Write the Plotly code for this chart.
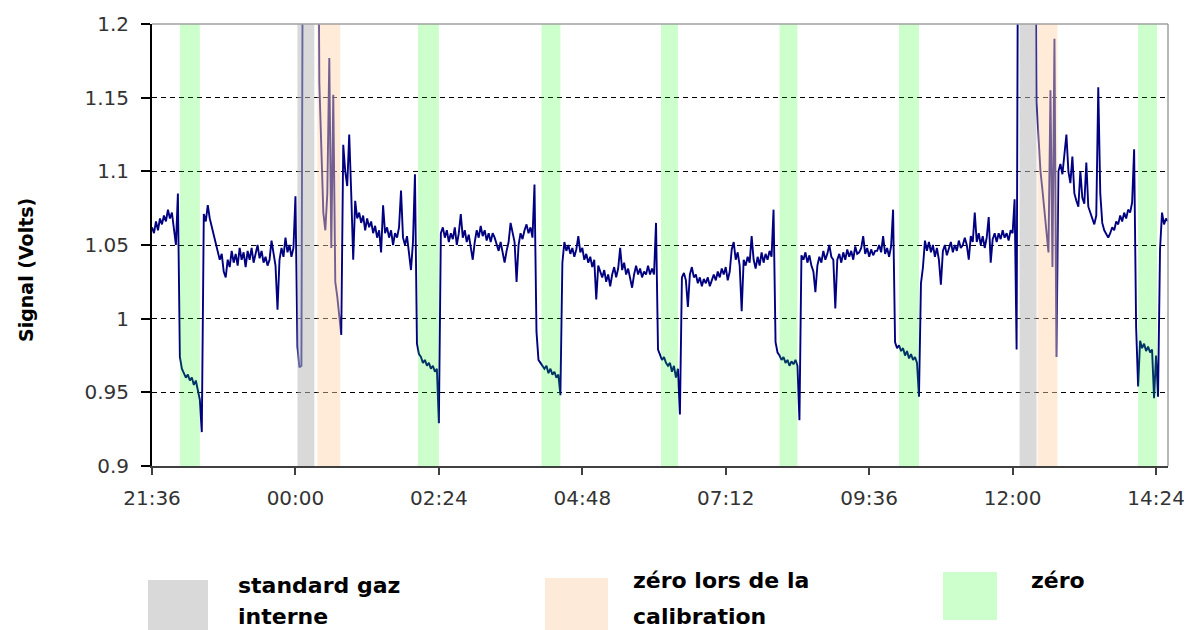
import plotly.graph_objects as go
import pandas as pd

# ---------------- data ----------------
start_time = "2000-01-01 21:36"
step_minutes = 2

# Signal (Volts), one reading every 2 minutes from 21:36
signal = [
    1.062, 1.058, 1.066, 1.060, 1.068, 1.064, 1.070, 1.066, 1.074, 1.068,  # 21:36
    1.072, 1.060, 1.050, 1.085, 0.974, 0.966, 0.963, 0.960, 0.962, 0.958,  # 21:56
    0.960, 0.955, 0.958, 0.952, 0.945, 0.923, 1.071, 1.066, 1.077, 1.068,  # 22:16
    1.062, 1.058, 1.050, 1.046, 1.040, 1.044, 1.032, 1.028, 1.040, 1.035,  # 22:36
    1.046, 1.038, 1.044, 1.036, 1.048, 1.040, 1.045, 1.035, 1.046, 1.040,  # 22:56
    1.048, 1.038, 1.044, 1.050, 1.041, 1.046, 1.038, 1.042, 1.036, 1.040,  # 23:16
    1.053, 1.044, 1.036, 1.006, 1.040, 1.048, 1.042, 1.055, 1.045, 1.050,  # 23:36
    1.042, 1.048, 1.083, 0.981, 0.967, 0.968, 1.400, 1.400, 1.400, 1.400,  # 23:56
    1.400, 1.400, 1.400, 1.400, 1.160, 1.116, 1.072, 1.060, 1.085, 1.177,  # 00:16
    1.048, 1.152, 1.025, 1.015, 1.003, 0.989, 1.118, 1.100, 1.090, 1.125,  # 00:36
    1.085, 1.040, 1.080, 1.068, 1.072, 1.065, 1.070, 1.060, 1.068, 1.062,  # 00:56
    1.066, 1.058, 1.063, 1.055, 1.060, 1.045, 1.077, 1.058, 1.062, 1.055,  # 01:16
    1.060, 1.050, 1.058, 1.055, 1.062, 1.087, 1.055, 1.050, 1.056, 1.045,  # 01:36
    1.033, 1.052, 1.098, 0.983, 0.976, 0.974, 0.970, 0.972, 0.968, 0.970,  # 01:56
    0.966, 0.968, 0.964, 0.966, 0.929, 1.058, 1.062, 1.055, 1.060, 1.052,  # 02:16
    1.058, 1.054, 1.062, 1.050, 1.058, 1.071, 1.055, 1.060, 1.052, 1.057,  # 02:36
    1.048, 1.040, 1.052, 1.060, 1.055, 1.063, 1.056, 1.060, 1.053, 1.058,  # 02:56
    1.052, 1.058, 1.055, 1.050, 1.046, 1.052, 1.044, 1.038, 1.046, 1.052,  # 03:16
    1.065, 1.058, 1.052, 1.025, 1.050, 1.058, 1.054, 1.060, 1.064, 1.058,  # 03:36
    1.062, 1.055, 1.091, 0.991, 0.972, 0.970, 0.968, 0.966, 0.968, 0.963,  # 03:56
    0.966, 0.962, 0.964, 0.960, 0.962, 0.948, 1.038, 1.052, 1.046, 1.050,  # 04:16
    1.044, 1.048, 1.042, 1.047, 1.056, 1.045, 1.048, 1.040, 1.044, 1.038,  # 04:36
    1.042, 1.035, 1.040, 1.013, 1.036, 1.032, 1.028, 1.033, 1.025, 1.030,  # 04:56
    1.022, 1.030, 1.035, 1.028, 1.034, 1.048, 1.033, 1.038, 1.030, 1.034,  # 05:16
    1.027, 1.021, 1.030, 1.036, 1.030, 1.034, 1.028, 1.032, 1.030, 1.036,  # 05:36
    1.030, 1.034, 1.030, 1.065, 0.979, 0.976, 0.972, 0.974, 0.970, 0.968,  # 05:56
    0.970, 0.964, 0.968, 0.960, 0.966, 0.935, 1.028, 1.031, 1.026, 1.008,  # 06:16
    1.030, 1.035, 1.028, 1.030, 1.024, 1.028, 1.022, 1.027, 1.024, 1.028,  # 06:36
    1.022, 1.026, 1.030, 1.026, 1.032, 1.028, 1.034, 1.030, 1.035, 1.026,  # 06:56
    1.032, 1.047, 1.052, 1.040, 1.045, 1.036, 1.005, 1.040, 1.036, 1.042,  # 07:16
    1.038, 1.056, 1.040, 1.034, 1.042, 1.036, 1.045, 1.038, 1.044, 1.040,  # 07:36
    1.046, 1.042, 1.074, 0.984, 0.977, 0.975, 0.972, 0.974, 0.970, 0.972,  # 07:56
    0.968, 0.971, 0.969, 0.972, 0.968, 0.931, 1.043, 1.040, 1.045, 1.038,  # 08:16
    1.043, 1.036, 1.032, 1.018, 1.036, 1.042, 1.038, 1.046, 1.040, 1.044,  # 08:36
    1.050, 1.042, 1.040, 1.007, 1.040, 1.044, 1.038, 1.045, 1.040, 1.047,  # 08:56
    1.042, 1.046, 1.040, 1.049, 1.044, 1.045, 1.048, 1.056, 1.044, 1.048,  # 09:16
    1.042, 1.047, 1.043, 1.046, 1.046, 1.050, 1.045, 1.056, 1.044, 1.048,  # 09:36
    1.042, 1.049, 1.074, 0.984, 0.980, 0.982, 0.978, 0.980, 0.975, 0.978,  # 09:56
    0.973, 0.976, 0.972, 0.974, 0.970, 0.947, 1.024, 1.035, 1.053, 1.046,  # 10:16
    1.052, 1.045, 1.050, 1.042, 1.048, 1.040, 1.023, 1.046, 1.050, 1.043,  # 10:36
    1.048, 1.052, 1.045, 1.050, 1.046, 1.053, 1.048, 1.050, 1.055, 1.050,  # 10:56
    1.040, 1.056, 1.052, 1.072, 1.052, 1.058, 1.050, 1.056, 1.048, 1.055,  # 11:16
    1.069, 1.038, 1.054, 1.058, 1.052, 1.058, 1.054, 1.060, 1.055, 1.058,  # 11:36
    1.053, 1.060, 1.058, 1.081, 0.979, 1.400, 1.400, 1.400, 1.400, 1.400,  # 11:56
    1.400, 1.400, 1.400, 1.400, 1.147, 1.120, 1.100, 1.087, 1.072, 1.060,  # 12:16
    1.045, 1.155, 1.035, 1.190, 0.974, 1.100, 1.105, 1.098, 1.110, 1.125,  # 12:36
    1.100, 1.092, 1.110, 1.085, 1.080, 1.076, 1.100, 1.082, 1.078, 1.106,  # 12:56
    1.076, 1.072, 1.068, 1.064, 1.070, 1.157, 1.085, 1.065, 1.060, 1.057,  # 13:16
    1.055, 1.058, 1.062, 1.060, 1.066, 1.064, 1.070, 1.066, 1.072, 1.068,  # 13:36
    1.074, 1.072, 1.079, 1.115, 0.994, 0.954, 0.985, 0.980, 0.983, 0.978,  # 13:56
    0.981, 0.977, 0.979, 0.946, 0.975, 0.947, 1.047, 1.072, 1.064, 1.068,  # 14:16
    1.066,                                                                 # 14:36
]

# Event periods (shaded bands)
gray_start = ["2000-01-02 00:02", "2000-01-02 12:07"]
gray_end = ["2000-01-02 00:19", "2000-01-02 12:24"]
orange_start = ["2000-01-02 00:22", "2000-01-02 12:25"]
orange_end = ["2000-01-02 00:45", "2000-01-02 12:45"]
green_start = ["2000-01-01 22:04", "2000-01-02 02:03", "2000-01-02 04:07", "2000-01-02 06:07",
               "2000-01-02 08:06", "2000-01-02 10:06", "2000-01-02 14:06"]
green_end = ["2000-01-01 22:24", "2000-01-02 02:24", "2000-01-02 04:26", "2000-01-02 06:24",
             "2000-01-02 08:24", "2000-01-02 10:26", "2000-01-02 14:25"]

y_ticks = [0.9, 0.95, 1.0, 1.05, 1.1, 1.15, 1.2]
y_ticktext = ["0.9", "0.95", "1", "1.05", "1.1", "1.15", "1.2"]
x_range = ["2000-01-01 21:36", "2000-01-02 14:36"]

legend_lines = [["standard gaz", "interne"], ["zéro lors de la", "calibration"], ["zéro"]]

# ---------------- figure ----------------
t0 = pd.Timestamp(start_time)
times = [t0 + pd.Timedelta(minutes=step_minutes * i) for i in range(len(signal))]

fig = go.Figure()
fig.add_trace(go.Scatter(x=times, y=signal, mode="lines",
                         line=dict(color="#000080", width=1.9),
                         hoverinfo="skip", showlegend=False))

OFF = 8  # page offset of the figure inside the window
W, H = 1192 - OFF, 630 - OFF
# plot area in window pixels: x 152..1168, y 24..466
L, T = 152 - OFF, 24 - OFF
R = W - (1168 - OFF)
B = H - (466 - OFF)
pw, ph = W - L - R, H - T - B

def px(xw):
    return (xw - OFF - L) / pw

def py(yw):
    return (H - B - (yw - OFF)) / ph

shapes = []
def band(s, e, color, op):
    shapes.append(dict(type="rect", xref="x", yref="y domain", x0=s, x1=e, y0=0, y1=1,
                       fillcolor=color, opacity=op, line=dict(width=0), layer="above"))

for s, e in zip(green_start, green_end):
    band(s, e, "rgb(0,255,0)", 0.2)
for s, e in zip(gray_start, gray_end):
    band(s, e, "rgb(186,186,186)", 0.55)
for s, e in zip(orange_start, orange_end):
    band(s, e, "rgb(255,211,166)", 0.45)

# top and right frame lines
shapes.append(dict(type="line", xref="paper", yref="paper", x0=0, x1=1, y0=1, y1=1,
                   line=dict(color="#a0a0a0", width=1.5), layer="above"))
shapes.append(dict(type="line", xref="paper", yref="paper", x0=1, x1=1, y0=0, y1=1,
                   line=dict(color="#a0a0a0", width=1.5), layer="above"))

# legend boxes (window pixel coordinates)
leg_boxes = [(148, 208, 580, 640, "rgb(217,217,217)"),
             (545, 608, 578, 640, "rgb(253,234,217)"),
             (943, 997, 572, 620, "rgb(204,255,204)")]
for x0, x1, y0, y1, c in leg_boxes:
    shapes.append(dict(type="rect", xref="paper", yref="paper",
                       x0=px(x0), x1=px(x1), y0=py(y1), y1=py(y0),
                       fillcolor=c, line=dict(width=0), layer="above"))

annotations = []
leg_text_pos = [(236, [585, 616]), (631, [580, 616]), (1029, [580])]
for (xw, ys), lines in zip(leg_text_pos, legend_lines):
    for yw, txt in zip(ys, lines):
        annotations.append(dict(xref="paper", yref="paper", x=px(xw), y=py(yw),
                                xanchor="left", yanchor="middle", align="left", showarrow=False,
                                text=txt,
                                font=dict(family="DejaVu Sans", size=22, color="black", weight="bold")))

annotations.append(dict(xref="paper", yref="paper", x=px(26), y=py(270),
                        xanchor="center", yanchor="middle", textangle=-90, showarrow=False,
                        text="Signal (Volts)",
                        font=dict(family="DejaVu Sans", size=19, color="black", weight="bold")))

fig.update_layout(
    width=W, height=H,
    margin=dict(l=L, r=R, t=T, b=B, autoexpand=False),
    paper_bgcolor="white", plot_bgcolor="white",
    shapes=shapes, annotations=annotations,
    showlegend=False,
    xaxis=dict(type="date", range=x_range, tick0=start_time, dtick=144 * 60 * 1000,
               tickformat="%H:%M", showgrid=False, zeroline=False, automargin=False,
               showline=True, linecolor="#404040", linewidth=2,
               ticks="outside", ticklen=7, tickwidth=2, tickcolor="#404040",
               tickfont=dict(family="DejaVu Sans", size=20, color="#333333"),
               ticklabelstandoff=6),
    yaxis=dict(range=[0.9, 1.2], tickvals=y_ticks, ticktext=y_ticktext, automargin=False,
               showgrid=True, gridcolor="black", griddash="5px,4px", gridwidth=1,
               zeroline=False, showline=True, linecolor="black", linewidth=2,
               ticks="outside", ticklen=9, tickwidth=1.5, tickcolor="black",
               tickfont=dict(family="DejaVu Sans", size=20, color="#333333"),
               ticklabelstandoff=8),
)

fig.write_html("out.html")
